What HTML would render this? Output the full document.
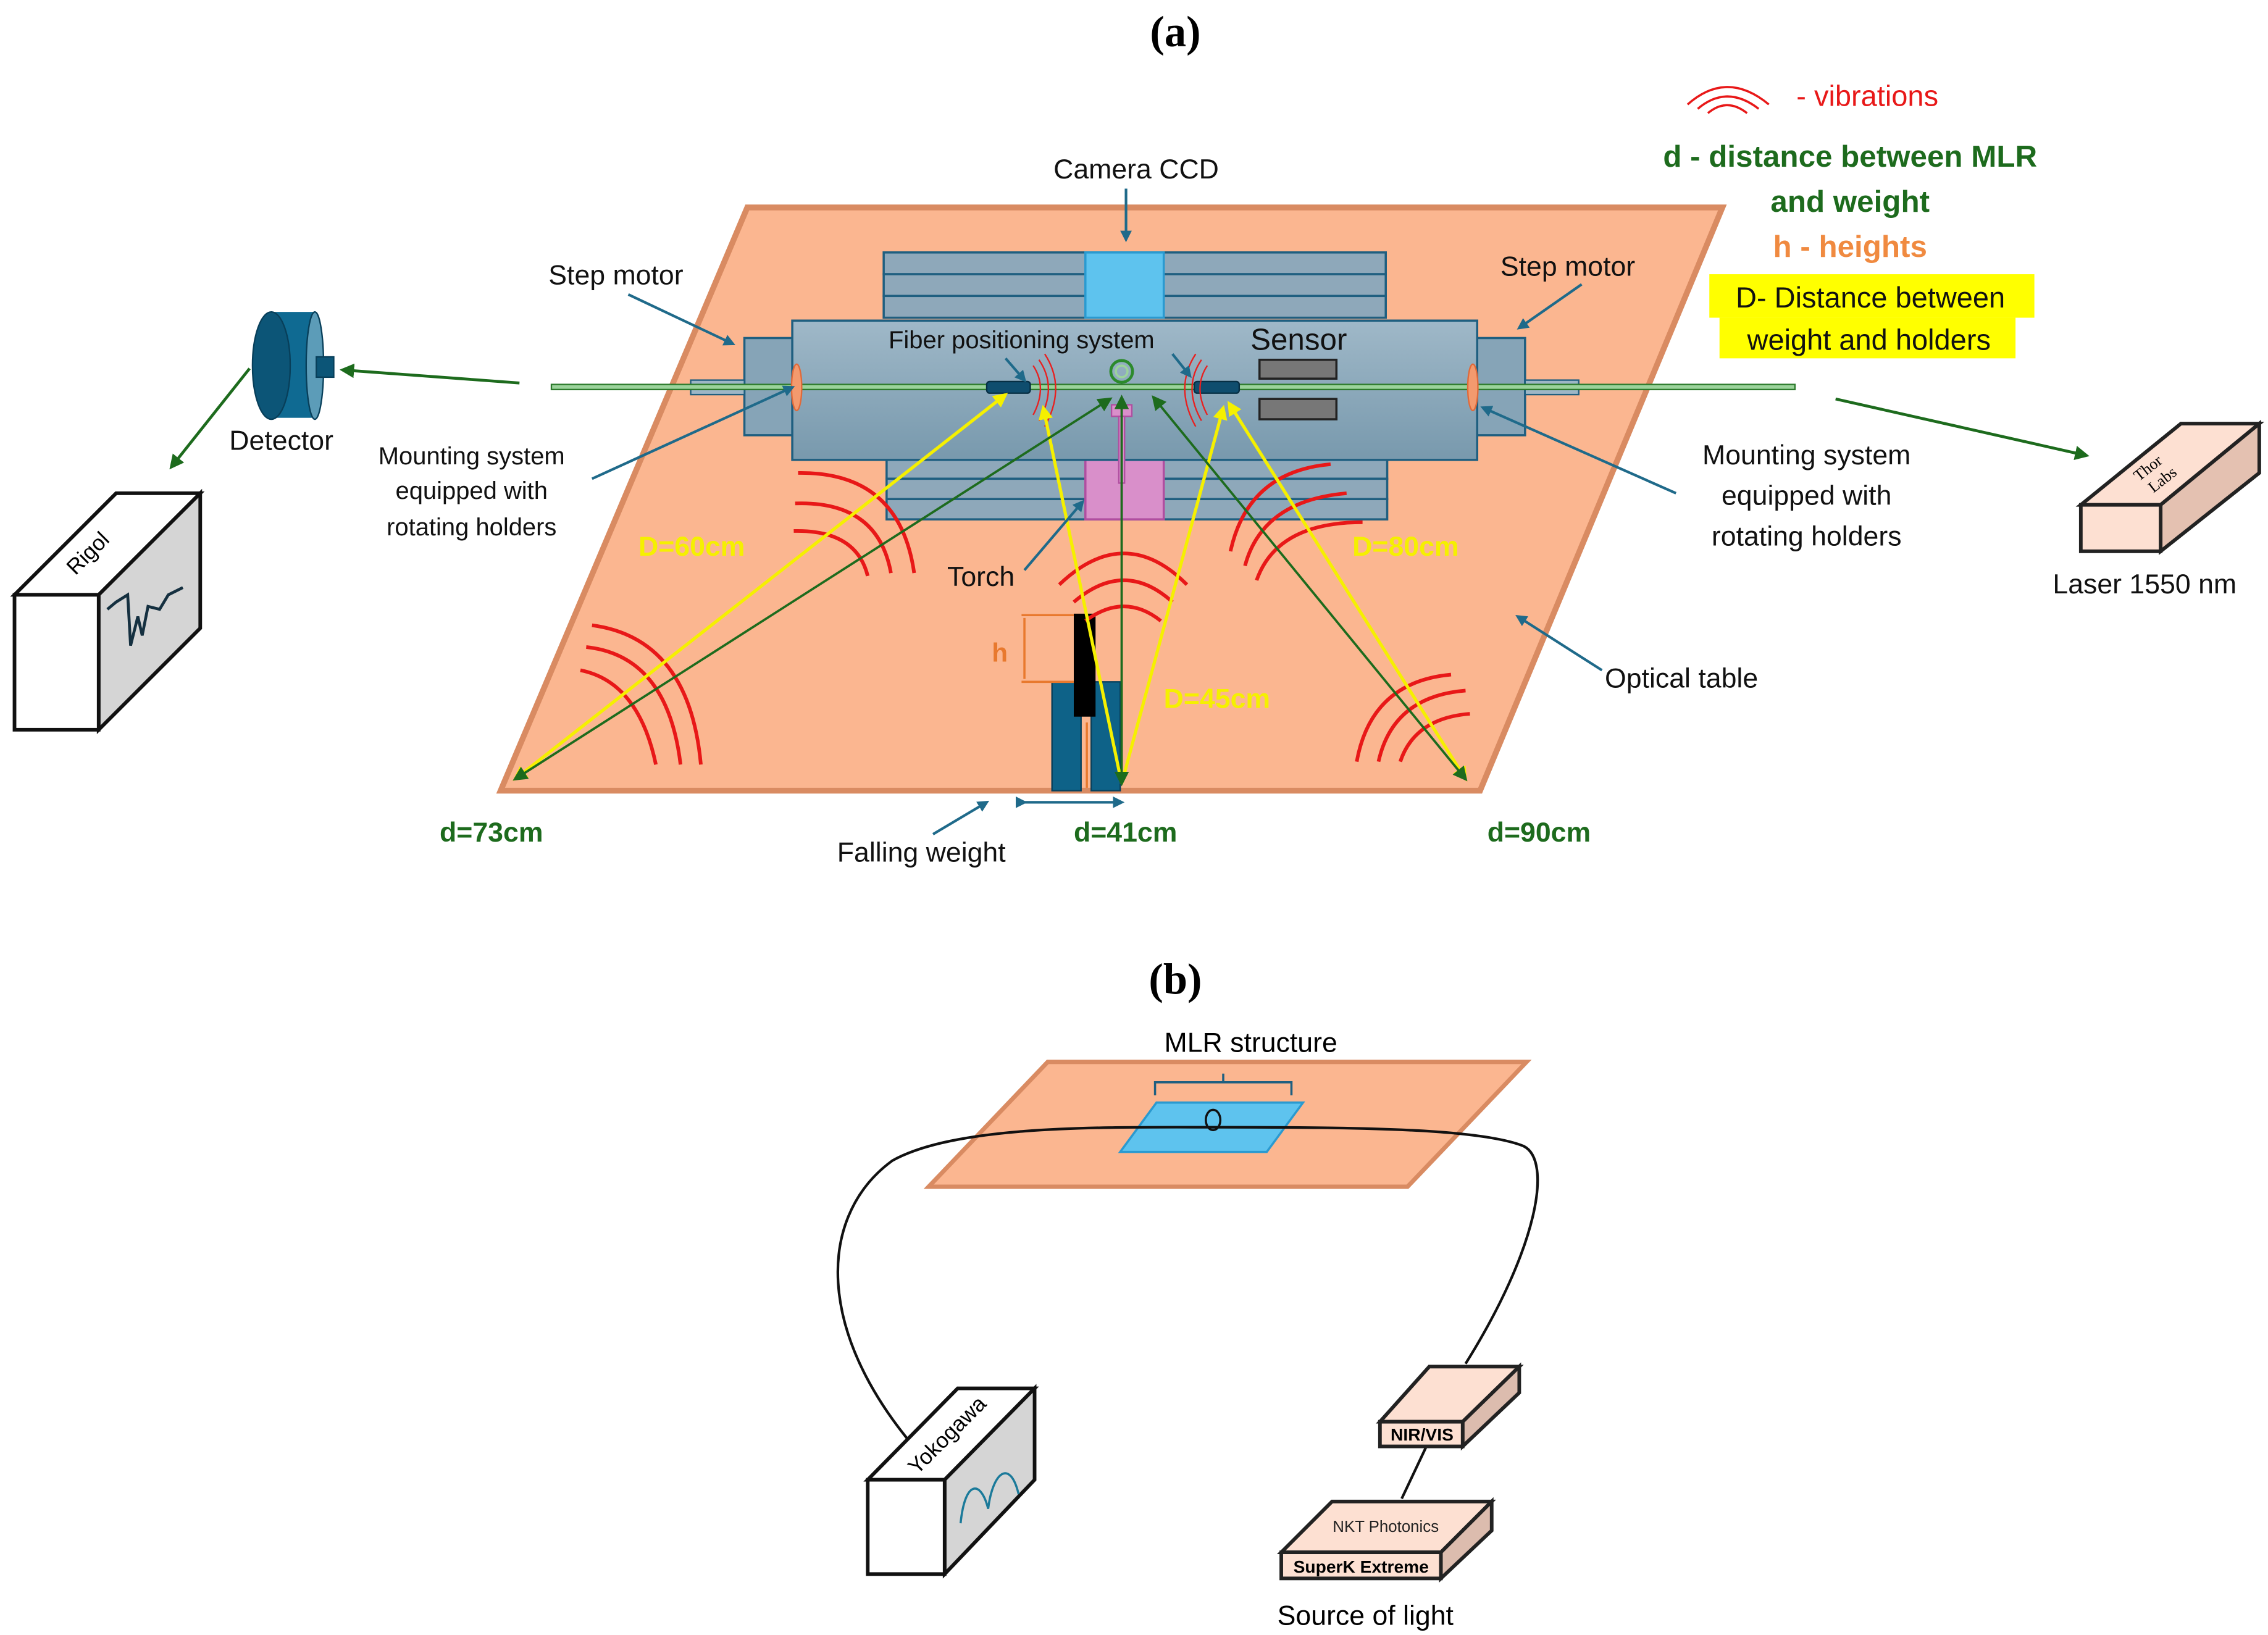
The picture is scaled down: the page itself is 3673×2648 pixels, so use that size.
<!DOCTYPE html>
<html><head><meta charset="utf-8"><style>
html,body{margin:0;padding:0;background:#fff;}
svg{display:block;font-family:"Liberation Sans",sans-serif;}
</style></head><body>
<svg width="3673" height="2648" viewBox="0 0 1563 1127" preserveAspectRatio="none" xmlns="http://www.w3.org/2000/svg">
<defs>
<marker id="ab" markerWidth="8" markerHeight="8" refX="6" refY="4" orient="auto" markerUnits="userSpaceOnUse"><path d="M0,0 L8,4 L0,8 z" fill="#1f6a8a"/></marker>
<marker id="ag" markerWidth="10" markerHeight="10" refX="8" refY="5" orient="auto" markerUnits="userSpaceOnUse"><path d="M0,0 L10,5 L0,10 z" fill="#1d6b1d"/></marker>
<marker id="ay" markerWidth="10" markerHeight="10" refX="8" refY="5" orient="auto" markerUnits="userSpaceOnUse"><path d="M0,0 L10,5 L0,10 z" fill="#f5f000"/></marker>
<marker id="ayr" markerWidth="10" markerHeight="10" refX="2" refY="5" orient="auto" markerUnits="userSpaceOnUse"><path d="M10,0 L0,5 L10,10 z" fill="#f5f000"/></marker>
<marker id="agr" markerWidth="10" markerHeight="10" refX="2" refY="5" orient="auto" markerUnits="userSpaceOnUse"><path d="M10,0 L0,5 L10,10 z" fill="#1d6b1d"/></marker>
<linearGradient id="body" x1="0" y1="0" x2="0" y2="1"><stop offset="0" stop-color="#9fb8c8"/><stop offset="1" stop-color="#7899ad"/></linearGradient>
</defs>

<text x="810" y="32" style="font-family:'Liberation Serif',serif" font-weight="bold" font-size="30" text-anchor="middle">(a)</text>

<polygon points="345,545 515,143 1187,143 1020,545" fill="#fbb690" stroke="#d98b62" stroke-width="4"/>

<g stroke="#1f5f80" stroke-width="1.5" fill="#8ea8ba">
<rect x="609" y="174" width="346" height="15"/><rect x="609" y="189" width="346" height="15"/><rect x="609" y="204" width="346" height="15"/>
</g>
<rect x="748" y="174" width="54" height="45" fill="#5ec3ee" stroke="#2a9ad0" stroke-width="1.5"/>
<g stroke="#1f5f80" stroke-width="1.5" fill="#8ea8ba">
<rect x="611" y="316" width="345" height="14"/><rect x="611" y="330" width="345" height="14"/><rect x="611" y="344" width="345" height="14"/>
</g>
<rect x="748" y="316" width="54" height="42" fill="#d98fca" stroke="#b04ea0" stroke-width="1.5"/>
<rect x="513" y="233" width="34" height="67" fill="#86a4b7" stroke="#1f5f80" stroke-width="1.5"/>
<rect x="1017" y="233" width="34" height="67" fill="#86a4b7" stroke="#1f5f80" stroke-width="1.5"/>
<rect x="476" y="262" width="37" height="10" fill="#9db6c6" stroke="#1f5f80"/>
<rect x="1051" y="262" width="37" height="10" fill="#9db6c6" stroke="#1f5f80"/>
<rect x="546" y="221" width="472" height="96" fill="url(#body)" stroke="#1f5f80" stroke-width="1.5"/>
<rect x="380" y="265" width="857" height="3.5" fill="#9bd39b" stroke="#2c7a2c" stroke-width="1"/>
<ellipse cx="549" cy="267" rx="3.5" ry="16" fill="#f39a6e" stroke="#e06a3a"/>
<ellipse cx="1015" cy="267" rx="3.5" ry="16" fill="#f39a6e" stroke="#e06a3a"/>
<circle cx="773" cy="256" r="7.5" fill="none" stroke="#2c8a2c" stroke-width="2"/>
<circle cx="773" cy="256" r="4" fill="none" stroke="#9bd39b" stroke-width="1.5"/>
<rect x="680" y="263" width="30" height="8" rx="2" fill="#0f4d6e" stroke="#072f44"/>
<rect x="823" y="263" width="31" height="8" rx="2" fill="#0f4d6e" stroke="#072f44"/>
<rect x="868" y="248" width="53" height="13" fill="#777" stroke="#222" stroke-width="1.5"/>
<rect x="868" y="275" width="53" height="14" fill="#777" stroke="#222" stroke-width="1.5"/>
<rect x="766" y="279" width="14" height="8" fill="#d98fca" stroke="#b04ea0"/>
<rect x="771" y="287" width="4" height="46" fill="#d98fca" stroke="#b04ea0"/>
<g fill="none" stroke="#e82020" stroke-width="1">
<path d="M712,252 Q722,267 712,286"/><path d="M716,248 Q729,267 716,290"/><path d="M720,244 Q735,267 720,294"/>
<path d="M832,252 Q822,267 832,286"/><path d="M828,248 Q815,267 828,290"/><path d="M824,244 Q809,267 824,294"/>
</g>
<rect x="725" y="470" width="20" height="75" fill="#0e6288" stroke="#08405c"/>
<rect x="752" y="470" width="20" height="75" fill="#0e6288" stroke="#08405c"/>
<rect x="740" y="423" width="15" height="71" fill="#000"/>
<g stroke="#e8792e" stroke-width="1.5" fill="none">
<line x1="704" y1="424" x2="740" y2="424"/><line x1="704" y1="470" x2="740" y2="470"/>
<line x1="706" y1="426" x2="706" y2="468"/>
<line x1="749" y1="498" x2="749" y2="543"/>
</g>
<text x="689" y="456" font-size="18" font-weight="bold" fill="#e8792e" text-anchor="middle">h</text>

<g fill="none" stroke="#e81818" stroke-width="2.5">
<path d="M548,347 Q605,345 614,395"/><path d="M550,326 Q620,325 630,395"/><path d="M547,366 Q590,365 598,397"/>
<path d="M730,403 Q775,360 818,403"/><path d="M740,415 Q775,385 808,415"/><path d="M748,428 Q775,408 800,428"/>
<path d="M848,380 Q860,325 917,320"/><path d="M858,390 Q870,345 928,340"/><path d="M866,400 Q880,360 939,360"/>
<path d="M400,462 Q440,470 452,527"/><path d="M404,446 Q460,452 469,527"/><path d="M408,431 Q475,440 483,527"/>
<path d="M935,525 Q945,470 1000,465"/><path d="M950,525 Q960,480 1010,476"/><path d="M965,525 Q975,495 1013,492"/>
</g>

<g stroke="#f5f000" stroke-width="2.2">
<line x1="355" y1="537" x2="693" y2="272" marker-start="url(#ayr)" marker-end="url(#ay)"/>
<line x1="773" y1="540" x2="719" y2="281" marker-end="url(#ay)"/>
<line x1="773" y1="540" x2="843" y2="281" marker-end="url(#ay)"/>
<line x1="1010" y1="537" x2="847" y2="278" marker-start="url(#ayr)" marker-end="url(#ay)"/>
</g>
<g stroke="#1d6b1d" stroke-width="1.6">
<line x1="355" y1="537" x2="765" y2="275" marker-start="url(#agr)" marker-end="url(#ag)"/>
<line x1="773" y1="540" x2="773" y2="274" marker-start="url(#agr)" marker-end="url(#ag)"/>
<line x1="1010" y1="537" x2="795" y2="274" marker-start="url(#agr)" marker-end="url(#ag)"/>
</g>

<g stroke="#1f6a8a" stroke-width="1.8" marker-end="url(#ab)">
<line x1="776" y1="130" x2="776" y2="165"/>
<line x1="433" y1="203" x2="505" y2="237"/>
<line x1="1090" y1="196" x2="1047" y2="226"/>
<line x1="408" y1="330" x2="546" y2="267"/>
<line x1="1155" y1="340" x2="1022" y2="281"/>
<line x1="706" y1="393" x2="746" y2="346"/>
<line x1="1104" y1="462" x2="1046" y2="425"/>
<line x1="643" y1="575" x2="680" y2="553"/>
<line x1="693" y1="247" x2="706" y2="262"/>
<line x1="808" y1="244" x2="820" y2="259"/>
</g>
<line x1="706" y1="553" x2="773" y2="553" stroke="#1f6a8a" stroke-width="1.8" marker-start="url(#ab)" marker-end="url(#ab)"/>

<g stroke="#1d6b1d" stroke-width="2" marker-end="url(#ag)">
<line x1="358" y1="264" x2="236" y2="255"/>
<line x1="172" y1="254" x2="118" y2="322"/>
<line x1="1265" y1="275" x2="1438" y2="314"/>
</g>

<rect x="187" y="215" width="30" height="73" fill="#0f6a92"/>
<ellipse cx="187" cy="252" rx="13" ry="37" fill="#0c5577" stroke="#083f5a"/>
<ellipse cx="217" cy="252" rx="6" ry="37" fill="#5c9cb8" stroke="#083f5a"/>
<rect x="218" y="246" width="12" height="14" fill="#0c5577" stroke="#083f5a"/>

<polygon points="10,410 68,410 138,340 80,340" fill="#fff" stroke="#111" stroke-width="2.5"/>
<polygon points="68,410 138,340 138,433 68,503" fill="#d5d5d5" stroke="#111" stroke-width="2.5"/>
<rect x="10" y="410" width="58" height="93" fill="#fff" stroke="#111" stroke-width="2.5"/>
<text x="0" y="0" font-size="15" transform="translate(52,397) rotate(-45)">Rigol</text>
<path d="M74,420 L80,415 L88,410 L90,445 L95,425 L98,438 L102,418 L110,420 L116,410 L126,405" fill="none" stroke="#153040" stroke-width="2"/>

<polygon points="1434,348 1489,348 1557,292 1503,292" fill="#fde0d2" stroke="#222" stroke-width="2.5"/>
<polygon points="1489,348 1557,292 1557,326 1489,380" fill="#e4c1b1" stroke="#222" stroke-width="2.5"/>
<rect x="1434" y="348" width="55" height="32" fill="#fde0d2" stroke="#222" stroke-width="2.5"/>
<text x="0" y="0" font-size="11" style="font-family:'Liberation Serif',serif" transform="translate(1474,332) rotate(-38)">Thor</text>
<text x="0" y="0" font-size="11" style="font-family:'Liberation Serif',serif" transform="translate(1484,340) rotate(-38)">Labs</text>

<g font-size="19" fill="#111">
<text x="783" y="123" text-anchor="middle">Camera CCD</text>
<text x="378" y="196">Step motor</text>
<text x="1034" y="190">Step motor</text>
<text x="704" y="240" text-anchor="middle" font-size="17">Fiber positioning system</text>
<text x="895" y="241" text-anchor="middle" font-size="21">Sensor</text>
<text x="158" y="310">Detector</text>
<text x="325" y="320" text-anchor="middle" font-size="17">Mounting system</text>
<text x="325" y="344" text-anchor="middle" font-size="17">equipped with</text>
<text x="325" y="369" text-anchor="middle" font-size="17">rotating holders</text>
<text x="1245" y="320" text-anchor="middle">Mounting system</text>
<text x="1245" y="348" text-anchor="middle">equipped with</text>
<text x="1245" y="376" text-anchor="middle">rotating holders</text>
<text x="676" y="404" text-anchor="middle">Torch</text>
<text x="1106" y="474">Optical table</text>
<text x="635" y="594" text-anchor="middle">Falling weight</text>
<text x="1478" y="409" text-anchor="middle">Laser 1550 nm</text>
</g>
<g font-size="19" font-weight="bold" fill="#f5f000">
<text x="440" y="383">D=60cm</text>
<text x="932" y="383">D=80cm</text>
<text x="802" y="488">D=45cm</text>
</g>
<g font-size="19" font-weight="bold" fill="#1d6b1d">
<text x="303" y="580">d=73cm</text>
<text x="740" y="580">d=41cm</text>
<text x="1025" y="580">d=90cm</text>
</g>

<g fill="none" stroke="#e81818" stroke-width="1.5">
<path d="M1163,72 Q1190,48 1219,72"/><path d="M1170,75 Q1190,58 1212,75"/><path d="M1177,78 Q1190,67 1204,78"/>
</g>
<text x="1238" y="73" font-size="20" fill="#e81818">- vibrations</text>
<g font-size="21" font-weight="bold" text-anchor="middle">
<text x="1275" y="115" fill="#1d6b1d">d - distance between MLR</text>
<text x="1275" y="146" fill="#1d6b1d">and weight</text>
<text x="1275" y="177" fill="#f08a40">h - heights</text>
</g>
<rect x="1178" y="189" width="224" height="30" fill="#ffff00"/>
<rect x="1185" y="219" width="204" height="28" fill="#ffff00"/>
<text x="1289" y="212" font-size="20" text-anchor="middle" fill="#111">D- Distance between</text>
<text x="1288" y="241" font-size="20" text-anchor="middle" fill="#111">weight and holders</text>

<text x="810" y="685" style="font-family:'Liberation Serif',serif" font-weight="bold" font-size="30" text-anchor="middle">(b)</text>
<text x="862" y="725" font-size="19" text-anchor="middle">MLR structure</text>
<polygon points="640,818 722,732 1052,732 970,818" fill="#fbb690" stroke="#d98b62" stroke-width="3"/>
<polygon points="772,794 797,760 898,760 873,794" fill="#5ec3ee" stroke="#2a9ad0" stroke-width="1.5"/>
<path d="M796,755 L796,746 L843,746 L843,740 M843,746 L890,746 L890,755" fill="none" stroke="#1f5f80" stroke-width="1.5"/>
<ellipse cx="836" cy="772" rx="5" ry="7" fill="none" stroke="#111" stroke-width="1.5"/>
<path d="M651,1020 C560,930 560,840 615,800 C660,775 760,777 840,777 C940,777 1020,778 1050,790 C1070,800 1060,860 1010,940" fill="none" stroke="#111" stroke-width="1.8"/>
<line x1="983" y1="997" x2="966" y2="1033" stroke="#111" stroke-width="1.8"/>

<polygon points="598,1020 651,1020 713,957 660,957" fill="#fff" stroke="#111" stroke-width="2.5"/>
<polygon points="651,1020 713,957 713,1020 651,1085" fill="#d5d5d5" stroke="#111" stroke-width="2.5"/>
<rect x="598" y="1020" width="53" height="65" fill="#fff" stroke="#111" stroke-width="2.5"/>
<text x="0" y="0" font-size="15" transform="translate(632,1017) rotate(-45)">Yokogawa</text>
<path d="M662,1050 C665,1020 676,1020 681,1040 C684,1015 696,1005 702,1030" fill="none" stroke="#1b7a9a" stroke-width="1.5"/>

<polygon points="951,980 1008,980 1047,942 985,942" fill="#fde0d2" stroke="#222" stroke-width="2.5"/>
<polygon points="1008,980 1047,942 1047,960 1008,997" fill="#dcbcae" stroke="#222" stroke-width="2.5"/>
<rect x="951" y="980" width="57" height="17" fill="#fde0d2" stroke="#222" stroke-width="2.5"/>
<text x="980" y="993" font-size="12" font-weight="bold" text-anchor="middle">NIR/VIS</text>

<polygon points="883,1070 993,1070 1028,1035 918,1035" fill="#fde0d2" stroke="#222" stroke-width="2.5"/>
<polygon points="993,1070 1028,1035 1028,1055 993,1088" fill="#dcbcae" stroke="#222" stroke-width="2.5"/>
<rect x="883" y="1070" width="110" height="18" fill="#fde0d2" stroke="#222" stroke-width="2.5"/>
<text x="955" y="1056" font-size="11" text-anchor="middle" fill="#222">NKT Photonics</text>
<text x="938" y="1084" font-size="12" font-weight="bold" text-anchor="middle">SuperK Extreme</text>
<text x="941" y="1120" font-size="19" text-anchor="middle">Source of light</text>
</svg>
</body></html>
